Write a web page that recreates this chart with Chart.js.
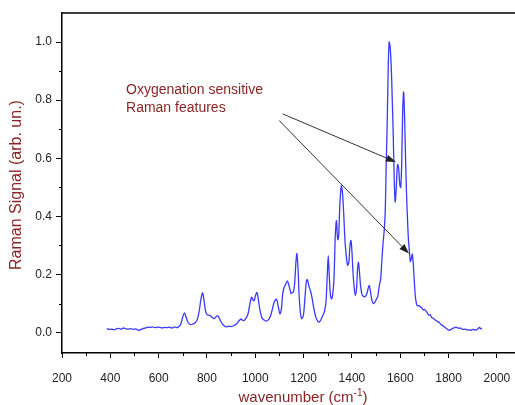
<!DOCTYPE html>
<html>
<head>
<meta charset="utf-8">
<script src="https://cdn.jsdelivr.net/npm/chart.js@4/dist/chart.umd.min.js"></script>
<style>
  html, body { margin: 0; padding: 0; background: #fff; }
  #wrap { width: 515px; height: 405px; position: relative; }
</style>
</head>
<body>
<div id="wrap"><canvas id="ramanChart"></canvas></div>
<script>
// ── Data ─────────────────────────────────────────────────────
const wavenumbers = [
  385, 395, 405, 415, 425, 435, 445, 455, 465, 475, 485, 495, 505, 515, 525, 535, 545, 555, 565, 575,
  585, 595, 605, 615, 625, 635, 645, 655, 665, 675, 685, 692, 700, 707, 714, 722, 732, 742, 752, 760,
  768, 775, 782, 788, 794, 800, 808, 815, 822, 830, 838, 845, 852, 860, 870, 880, 890, 900, 912, 922,
  932, 941, 948, 955, 962, 970, 978, 985, 990, 995, 1001, 1007, 1013, 1020, 1028, 1036, 1045, 1053, 1062, 1070,
  1078, 1088, 1095, 1102, 1108, 1113, 1118, 1125, 1133, 1140, 1148, 1153, 1158, 1163, 1168, 1172, 1177, 1182, 1188, 1193,
  1200, 1206, 1212, 1216, 1222, 1228, 1235, 1242, 1250, 1258, 1265, 1272, 1280, 1287, 1293, 1298, 1302, 1306, 1311, 1316,
  1321, 1326, 1331, 1336, 1341, 1345, 1350, 1356, 1361, 1366, 1371, 1376, 1382, 1387, 1392, 1396, 1400, 1405, 1410, 1414,
  1419, 1423, 1427, 1431, 1436, 1442, 1448, 1455, 1462, 1468, 1472, 1477, 1483, 1489, 1495, 1501, 1507, 1513, 1519, 1524,
  1529, 1534, 1538, 1542, 1546, 1550, 1554, 1558, 1563, 1567, 1571, 1575, 1579, 1583, 1587, 1590, 1594, 1598, 1602, 1606,
  1610, 1614, 1618, 1622, 1626, 1630, 1634, 1638, 1642, 1646, 1650, 1654, 1658, 1662, 1667, 1672, 1678, 1684, 1690, 1695,
  1700, 1706, 1712, 1718, 1724, 1730, 1736, 1742, 1748, 1755, 1762, 1768, 1775, 1782, 1788, 1795, 1802, 1808, 1815, 1822,
  1830, 1836, 1843, 1850, 1856, 1862, 1870, 1878, 1885, 1892, 1900, 1908, 1915, 1922, 1928, 1933, 1938
];
const ramanSignal = [
  0.014, 0.011, 0.012, 0.010, 0.013, 0.015, 0.012, 0.016, 0.013, 0.012, 0.014, 0.011, 0.013, 0.008, 0.010, 0.014, 0.016, 0.019, 0.018, 0.020,
  0.017, 0.019, 0.018, 0.016, 0.018, 0.017, 0.019, 0.016, 0.020, 0.017, 0.022, 0.030, 0.055, 0.068, 0.052, 0.035, 0.028, 0.030, 0.035, 0.045,
  0.075, 0.115, 0.137, 0.110, 0.075, 0.062, 0.060, 0.058, 0.052, 0.048, 0.055, 0.058, 0.048, 0.035, 0.025, 0.020, 0.022, 0.021, 0.025, 0.030,
  0.040, 0.047, 0.042, 0.043, 0.050, 0.065, 0.100, 0.122, 0.113, 0.110, 0.128, 0.138, 0.112, 0.075, 0.050, 0.044, 0.040, 0.043, 0.055, 0.078,
  0.105, 0.115, 0.090, 0.065, 0.080, 0.130, 0.152, 0.165, 0.178, 0.160, 0.135, 0.138, 0.140, 0.170, 0.240, 0.272, 0.220, 0.120, 0.060, 0.048,
  0.065, 0.125, 0.180, 0.182, 0.160, 0.145, 0.120, 0.085, 0.055, 0.040, 0.037, 0.045, 0.060, 0.075, 0.110, 0.200, 0.265, 0.200, 0.130, 0.116,
  0.135, 0.190, 0.330, 0.385, 0.320, 0.330, 0.440, 0.505, 0.480, 0.410, 0.320, 0.270, 0.232, 0.240, 0.300, 0.317, 0.280, 0.200, 0.150, 0.128,
  0.150, 0.215, 0.242, 0.210, 0.160, 0.130, 0.125, 0.124, 0.135, 0.155, 0.162, 0.140, 0.110, 0.100, 0.105, 0.115, 0.125, 0.160, 0.185, 0.250,
  0.310, 0.355, 0.420, 0.580, 0.720, 0.900, 1.000, 0.985, 0.910, 0.800, 0.680, 0.530, 0.450, 0.490, 0.560, 0.580, 0.560, 0.510, 0.500, 0.580,
  0.760, 0.828, 0.740, 0.600, 0.480, 0.390, 0.320, 0.280, 0.245, 0.255, 0.270, 0.235, 0.180, 0.130, 0.100, 0.092, 0.093, 0.088, 0.085, 0.078,
  0.080, 0.075, 0.068, 0.060, 0.062, 0.052, 0.050, 0.045, 0.042, 0.038, 0.035, 0.028, 0.025, 0.020, 0.016, 0.012, 0.008, 0.010, 0.014, 0.016,
  0.019, 0.017, 0.015, 0.016, 0.012, 0.011, 0.012, 0.009, 0.010, 0.008, 0.011, 0.010, 0.009, 0.014, 0.018, 0.013, 0.016
];

const xTickValues = [200, 400, 600, 800, 1000, 1200, 1400, 1600, 1800, 2000];
const xMinorTicks = [300, 500, 700, 900, 1100, 1300, 1500, 1700, 1900];
const yTickValues = [0.0, 0.2, 0.4, 0.6, 0.8, 1.0];
const yMinorTicks = [0.1, 0.3, 0.5, 0.7, 0.9];

const annotationLines = ['Oxygenation sensitive', 'Raman features'];
// arrows in data units: [fromX, fromY, toX, toY]
const arrows = [
  [1113, 0.753, 1582, 0.587],
  [1099, 0.730, 1636, 0.272],
];

const RED_TEXT = '#8b2525';
const FONT = '"Liberation Sans", Arial, sans-serif';

// ── Extra drawing: minor ticks, frame, titles, annotation ────
const decorPlugin = {
  id: 'decor',
  afterDraw(chart) {
    const { ctx, chartArea: a, scales: { x, y } } = chart;
    ctx.save();

    // top frame line
    ctx.strokeStyle = '#000';
    ctx.lineWidth = 1.5;
    ctx.beginPath();
    ctx.moveTo(a.left, a.top);
    ctx.lineTo(a.right, a.top);
    ctx.stroke();

    // minor ticks
    ctx.lineWidth = 1;
    ctx.beginPath();
    xMinorTicks.forEach(v => {
      const px = Math.round(x.getPixelForValue(v)) + 0.5;
      ctx.moveTo(px, a.bottom);
      ctx.lineTo(px, a.bottom + 3);
    });
    yMinorTicks.forEach(v => {
      const py = Math.round(y.getPixelForValue(v)) + 0.5;
      ctx.moveTo(a.left, py);
      ctx.lineTo(a.left - 3, py);
    });
    ctx.stroke();

    // y title
    ctx.fillStyle = RED_TEXT;
    ctx.font = `16px ${FONT}`;
    ctx.textAlign = 'center';
    ctx.textBaseline = 'middle';
    ctx.save();
    ctx.translate(17, 185);
    ctx.rotate(-Math.PI / 2);
    ctx.fillText('Raman Signal (arb. un.)', 0, 0);
    ctx.restore();

    // x title with superscript
    const main1 = 'wavenumber (cm', sup = '-1', main2 = ')';
    ctx.font = `15px ${FONT}`;
    const w1 = ctx.measureText(main1).width, w3 = ctx.measureText(main2).width;
    ctx.font = `10px ${FONT}`;
    const w2 = ctx.measureText(sup).width;
    let tx = 303 - (w1 + w2 + w3) / 2;
    const ty = 402;
    ctx.textAlign = 'left';
    ctx.textBaseline = 'alphabetic';
    ctx.font = `15px ${FONT}`;
    ctx.fillText(main1, tx, ty);
    ctx.font = `10px ${FONT}`;
    ctx.fillText(sup, tx + w1, ty - 6);
    ctx.font = `15px ${FONT}`;
    ctx.fillText(main2, tx + w1 + w2, ty);

    // annotation text
    ctx.font = `14px ${FONT}`;
    ctx.fillText(annotationLines[0], x.getPixelForValue(465), y.getPixelForValue(0.82));
    ctx.fillText(annotationLines[1], x.getPixelForValue(465), y.getPixelForValue(0.758));

    // arrows
    ctx.strokeStyle = '#333';
    ctx.fillStyle = '#222';
    ctx.lineWidth = 1;
    arrows.forEach(([x0, y0, x1, y1]) => {
      const p0 = [x.getPixelForValue(x0), y.getPixelForValue(y0)];
      const p1 = [x.getPixelForValue(x1), y.getPixelForValue(y1)];
      const ang = Math.atan2(p1[1] - p0[1], p1[0] - p0[0]);
      const len = 10, half = 3.5;
      const bx = p1[0] - len * Math.cos(ang), by = p1[1] - len * Math.sin(ang);
      ctx.beginPath();
      ctx.moveTo(p0[0], p0[1]);
      ctx.lineTo(bx, by);
      ctx.stroke();
      ctx.beginPath();
      ctx.moveTo(p1[0], p1[1]);
      ctx.lineTo(bx + half * Math.sin(ang), by - half * Math.cos(ang));
      ctx.lineTo(bx - half * Math.sin(ang), by + half * Math.cos(ang));
      ctx.closePath();
      ctx.fill();
    });

    ctx.restore();
  }
};

// ── Chart ────────────────────────────────────────────────────
new Chart(document.getElementById('ramanChart'), {
  type: 'line',
  data: {
    datasets: [{
      data: wavenumbers.map((w, i) => ({ x: w, y: ramanSignal[i] })),
      borderColor: '#3a3aff',
      borderWidth: 1.3,
      pointRadius: 0,
      tension: 0.3,
      fill: false,
    }],
  },
  options: {
    responsive: true,
    maintainAspectRatio: false,
    animation: false,
    layout: { padding: { top: 13, right: 0, left: 0, bottom: 0 } },
    plugins: { legend: { display: false }, tooltip: { enabled: false } },
    scales: {
      x: {
        type: 'linear',
        min: 200,
        max: 2075,
        afterBuildTicks: s => { s.ticks = xTickValues.map(v => ({ value: v })); },
        afterFit: s => { s.height = 52; s.paddingRight = 0; },
        grid: { drawOnChartArea: false, drawTicks: true, tickLength: 5, color: '#000', tickColor: '#000' },
        border: { display: true, color: '#000', width: 1.5 },
        ticks: { color: '#222', font: { size: 12, family: FONT }, padding: 13, maxRotation: 0, callback: v => String(v) },
      },
      y: {
        type: 'linear',
        min: -0.07,
        max: 1.1,
        afterBuildTicks: s => { s.ticks = yTickValues.map(v => ({ value: v })); },
        afterFit: s => { s.width = 62; },
        grid: { drawOnChartArea: false, drawTicks: true, tickLength: 6, color: '#000', tickColor: '#000' },
        border: { display: true, color: '#000', width: 1.5 },
        ticks: { color: '#222', font: { size: 12, family: FONT }, padding: 4, callback: v => v.toFixed(1) },
      },
    },
  },
  plugins: [decorPlugin],
});
</script>
</body>
</html>
